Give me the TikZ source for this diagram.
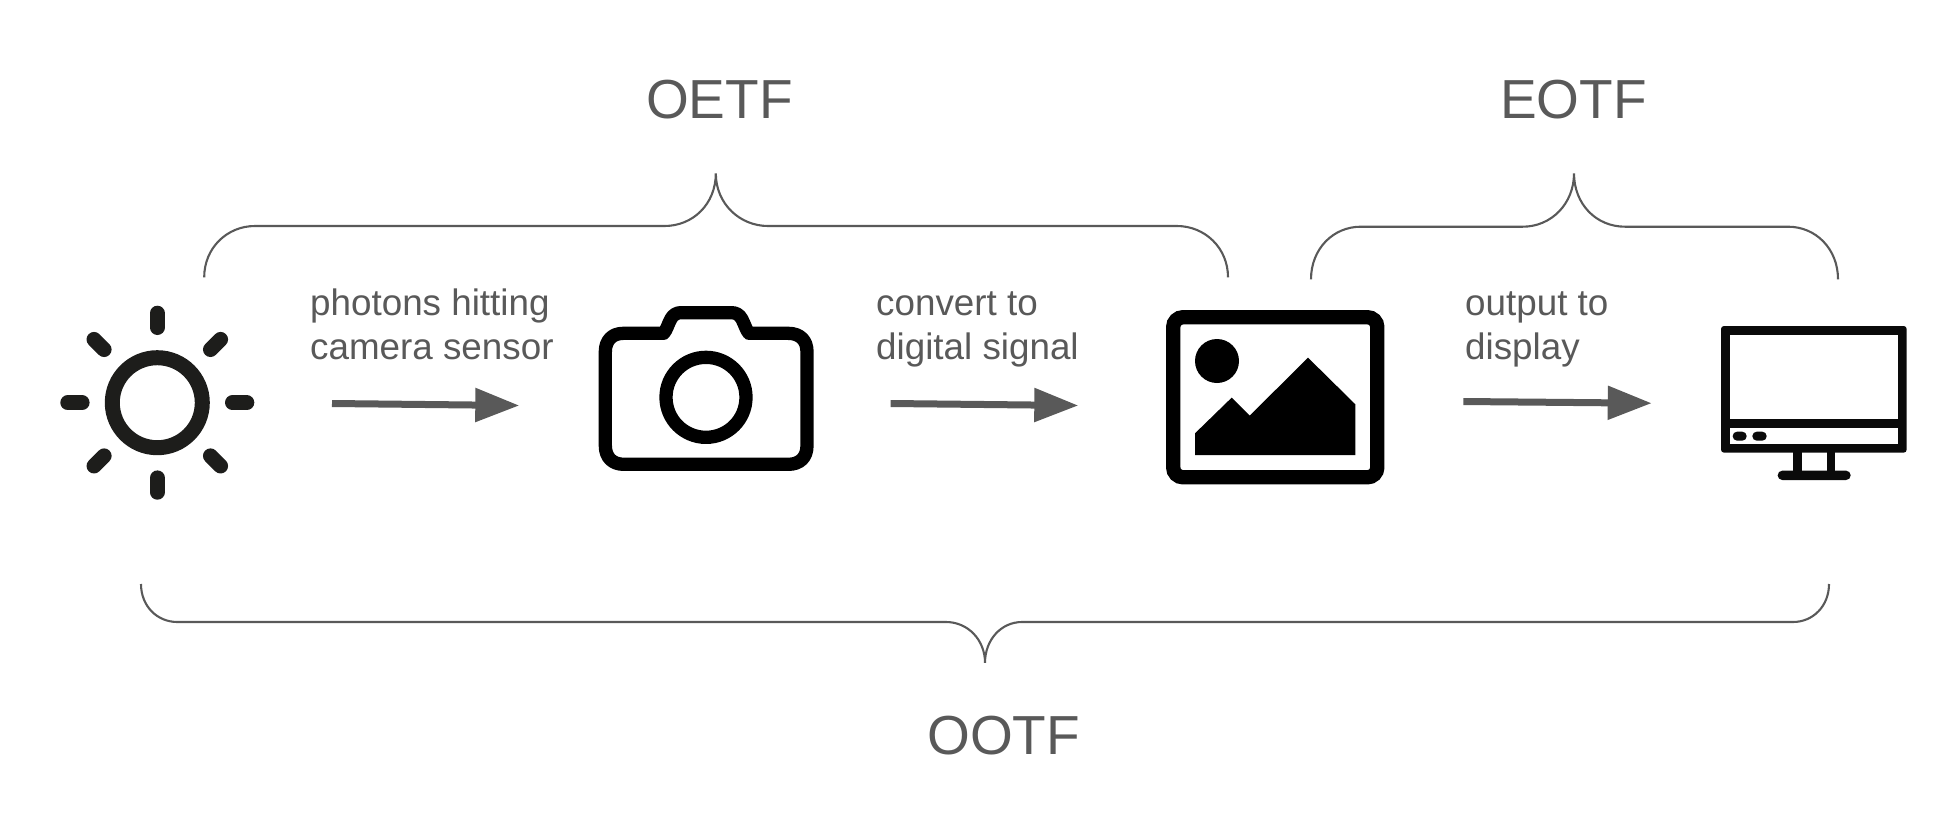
\documentclass[tikz,border=0pt]{standalone}
\usepackage{fontspec}
\setmainfont{Liberation Sans}
\usetikzlibrary{arrows.meta}
\definecolor{txtgrey}{HTML}{595959}
\definecolor{sunblack}{HTML}{1D1D1B}
\definecolor{monblack}{HTML}{0A0A0A}
\tikzset{
  biglabel/.style={anchor=base west,inner sep=0pt,text=txtgrey,font=\fontsize{55}{64}\selectfont},
  smalllabel/.style={anchor=base west,inner sep=0pt,text=txtgrey,font=\fontsize{36.8}{44}\selectfont},
  bracecurve/.style={draw=txtgrey,line width=2.1pt},
  flowarrow/.style={draw=txtgrey,line width=7pt,-{Triangle[length=44pt,width=32.5pt,fill=txtgrey]}},
  iconline/.style={draw=black,line width=13.3pt},
}
\begin{document}
\begin{tikzpicture}[x=1pt,y=-1pt]
\useasboundingbox (0,0) rectangle (1952,822);
% labels
\node[biglabel] (oetf) at (646,118) {OETF};
\node[biglabel] (eotf) at (1500,118) {EOTF};
\node[biglabel] (ootf) at (927,754) {OOTF};
\node[smalllabel] (l1a) at (310,315) {photons hitting};
\node[smalllabel] (l1b) at (310,359) {camera sensor};
\node[smalllabel] (l2a) at (876,315) {convert to};
\node[smalllabel] (l2b) at (876,359) {digital signal};
\node[smalllabel] (l3a) at (1465,315) {output to};
\node[smalllabel] (l3b) at (1465,359) {display};
% braces
\draw[bracecurve] (204.2,277.3) .. controls (204.2,248) and (227,226) .. (255,226)
  -- (664.5,226) .. controls (693,226) and (715.8,204) .. (715.8,173.3)
  .. controls (715.8,204) and (740,226) .. (768,226)
  -- (1176.8,226) .. controls (1205,226) and (1228,248) .. (1228,277.3);
\draw[bracecurve] (1311,279.3) .. controls (1311,249) and (1333,226.7) .. (1360.8,226.7)
  -- (1522.8,226.7) .. controls (1551,226.7) and (1574,204) .. (1574,173.3)
  .. controls (1574,204) and (1596,226.7) .. (1625,226.7)
  -- (1788,226.7) .. controls (1816,226.7) and (1838,249) .. (1838,279.3);
\draw[bracecurve] (141,584) .. controls (141,606) and (157,622) .. (177.4,622)
  -- (946,622) .. controls (968,622) and (985,640) .. (985,662.7)
  .. controls (985,640) and (1001,622) .. (1022,622)
  -- (1793,622) .. controls (1813,622) and (1829,606) .. (1829,584);
% arrows
\coordinate (a1s) at (332,403.5);
\coordinate (a1e) at (519.3,405.5);
\coordinate (a2s) at (890.7,403.5);
\coordinate (a2e) at (1078.3,405.5);
\coordinate (a3s) at (1463.3,401.5);
\coordinate (a3e) at (1651.7,403.2);
\draw[flowarrow] (a1s) -- (a1e);
\draw[flowarrow] (a2s) -- (a2e);
\draw[flowarrow] (a3s) -- (a3e);
% sun
\begin{scope}[shift={(157.3,402.7)}]
  \draw[sunblack,line width=15pt] (0,0) circle[radius=45];
  \foreach \a in {0,45,...,315}
    \draw[sunblack,line width=15pt,line cap=round] (\a:75.2) -- (\a:89.5);
\end{scope}
% camera
\begin{scope}[shift={(570,280)},scale=1/3]
  \draw[iconline,line join=round] (160,160) -- (281,160)
    .. controls (290,150) and (294,132) .. (303,116)
    .. controls (310,104) and (320,98) .. (333,98)
    -- (485,98) .. controls (498,98) and (508,104) .. (515,116)
    .. controls (524,132) and (528,150) .. (537,160)
    -- (655,160) .. controls (690,160) and (711,181) .. (711,215)
    -- (711,497) .. controls (711,532) and (690,553) .. (655,553)
    -- (162,553) .. controls (127,553) and (106,532) .. (106,497)
    -- (106,215) .. controls (106,181) and (127,160) .. (160,160) -- cycle;
  \draw[iconline] (408,352) circle[radius=120];
\end{scope}
% picture
\begin{scope}[shift={(1140,280)},scale=1/3]
  \draw[black,line width=14.3pt,rounded corners=10pt] (99.5,111.5) rectangle (712,592);
  \fill[black] (231,243) circle[radius=66];
  \fill[black] (165,525) -- (165,460) -- (275,353) -- (329,407) -- (504,233) -- (646,373) -- (646,525) -- cycle;
\end{scope}
% monitor
\begin{scope}[shift={(1440,300)},scale=1/3]
  \fill[monblack] (1060,450) rectangle (1086,520);
  \fill[monblack] (1160,450) rectangle (1186,520);
  \fill[monblack,rounded corners=4.6pt] (1013,512) rectangle (1232,540);
  \fill[monblack,rounded corners=3pt] (843,78) rectangle (1400,458);
  \fill[white] (870,105) rectangle (1375,357);
  \fill[white] (870,383) rectangle (1375,432);
  \fill[monblack,rounded corners=4.4pt] (878,395) rectangle (920,422);
  \fill[monblack,rounded corners=4.4pt] (937,395) rectangle (980,422);
\end{scope}
\end{tikzpicture}
\end{document}
